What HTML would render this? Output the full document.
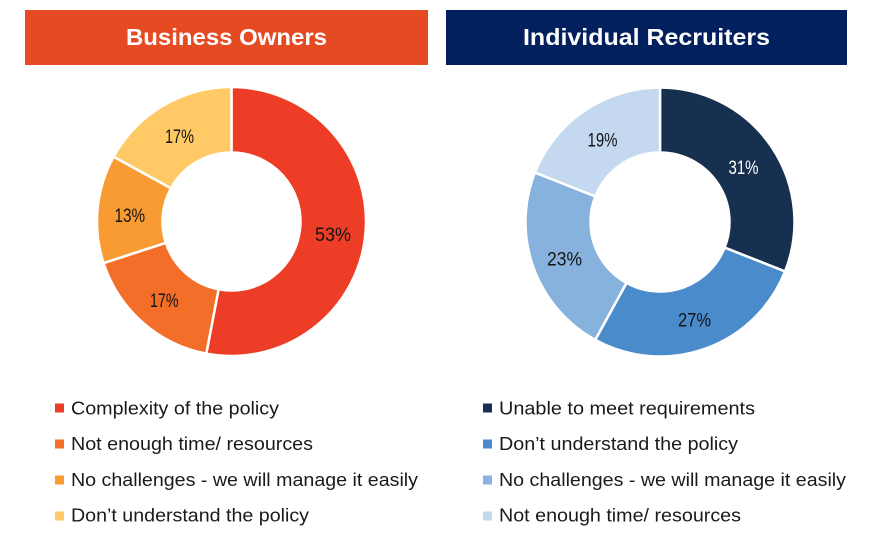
<!DOCTYPE html>
<html>
<head>
<meta charset="utf-8">
<style>
  html,body{margin:0;padding:0;background:#fff;}
  svg{display:block;}
  text{font-family:"Liberation Sans",sans-serif;}
</style>
</head>
<body>
<svg width="880" height="544" viewBox="0 0 880 544" xmlns="http://www.w3.org/2000/svg">
  <rect width="880" height="544" fill="#ffffff"/>

  <!-- Headers -->
  <rect x="25" y="10" width="403" height="55" fill="#E64A23"/>
  <text x="126" y="45" font-size="23" font-weight="bold" fill="#ffffff" textLength="201" lengthAdjust="spacingAndGlyphs">Business Owners</text>

  <rect x="446" y="10" width="401" height="55" fill="#03205E"/>
  <text x="523" y="45" font-size="23" font-weight="bold" fill="#ffffff" textLength="247" lengthAdjust="spacingAndGlyphs">Individual Recruiters</text>

  <!-- Left donut -->
  <g stroke="#ffffff" stroke-width="2.5" stroke-linejoin="miter">
    <path d="M231.5,87 A134.5,134.5 0 1 1 206.30,353.62 L218.57,289.28 A69,69 0 1 0 231.5,152.5 Z" fill="#EE3D26"/>
    <path d="M206.30,353.62 A134.5,134.5 0 0 1 103.58,263.06 L165.88,242.82 A69,69 0 0 0 218.57,289.28 Z" fill="#F26E29"/>
    <path d="M103.58,263.06 A134.5,134.5 0 0 1 113.64,156.70 L171.03,188.26 A69,69 0 0 0 165.88,242.82 Z" fill="#F99B33"/>
    <path d="M113.64,156.70 A134.5,134.5 0 0 1 231.5,87 L231.5,152.5 A69,69 0 0 0 171.03,188.26 Z" fill="#FFC966"/>
  </g>
  <g font-size="19" fill="#141414">
    <text x="315" y="241" textLength="36" lengthAdjust="spacingAndGlyphs">53%</text>
    <text x="165" y="143" textLength="29" lengthAdjust="spacingAndGlyphs">17%</text>
    <text x="114.5" y="222" textLength="30.5" lengthAdjust="spacingAndGlyphs">13%</text>
    <text x="150" y="307" textLength="28.5" lengthAdjust="spacingAndGlyphs">17%</text>
  </g>

  <!-- Right donut -->
  <g stroke="#ffffff" stroke-width="2.5" stroke-linejoin="miter">
    <path d="M660,87.5 A134.5,134.5 0 0 1 785.06,271.51 L724.62,247.58 A69.5,69.5 0 0 0 660,152.5 Z" fill="#17304F"/>
    <path d="M785.06,271.51 A134.5,134.5 0 0 1 595.20,339.86 L626.52,282.90 A69.5,69.5 0 0 0 724.62,247.58 Z" fill="#4A8BCB"/>
    <path d="M595.20,339.86 A134.5,134.5 0 0 1 534.94,172.49 L595.38,196.42 A69.5,69.5 0 0 0 626.52,282.90 Z" fill="#87B2DE"/>
    <path d="M534.94,172.49 A134.5,134.5 0 0 1 660,87.5 L660,152.5 A69.5,69.5 0 0 0 595.38,196.42 Z" fill="#C4D9F0"/>
  </g>
  <g font-size="19" fill="#141414">
    <text x="728.5" y="174" fill="#ffffff" textLength="30" lengthAdjust="spacingAndGlyphs">31%</text>
    <text x="678" y="326.5" textLength="33" lengthAdjust="spacingAndGlyphs">27%</text>
    <text x="547" y="265.5" textLength="35" lengthAdjust="spacingAndGlyphs">23%</text>
    <text x="587.5" y="146.5" textLength="30" lengthAdjust="spacingAndGlyphs">19%</text>
  </g>

  <!-- Left legend -->
  <rect x="55" y="403.5" width="9" height="9" fill="#EE3D26"/>
  <rect x="55" y="439.5" width="9" height="9" fill="#F26E29"/>
  <rect x="55" y="475.5" width="9" height="9" fill="#F99B33"/>
  <rect x="55" y="511.5" width="9" height="9" fill="#FFC966"/>
  <g font-size="18" fill="#1a1a1a">
    <text x="71" y="414.5" textLength="208" lengthAdjust="spacingAndGlyphs">Complexity of the policy</text>
    <text x="71" y="450" textLength="242" lengthAdjust="spacingAndGlyphs">Not enough time/ resources</text>
    <text x="71" y="486" textLength="347" lengthAdjust="spacingAndGlyphs">No challenges - we will manage it easily</text>
    <text x="71" y="521.5" textLength="238" lengthAdjust="spacingAndGlyphs">Don’t understand the policy</text>
  </g>

  <!-- Right legend -->
  <rect x="483" y="403.5" width="9" height="9" fill="#17304F"/>
  <rect x="483" y="439.5" width="9" height="9" fill="#4A8BCB"/>
  <rect x="483" y="475.5" width="9" height="9" fill="#87B2DE"/>
  <rect x="483" y="511.5" width="9" height="9" fill="#C4D9F0"/>
  <g font-size="18" fill="#1a1a1a">
    <text x="499" y="414.5" textLength="256" lengthAdjust="spacingAndGlyphs">Unable to meet requirements</text>
    <text x="499" y="450" textLength="239" lengthAdjust="spacingAndGlyphs">Don’t understand the policy</text>
    <text x="499" y="486" textLength="347" lengthAdjust="spacingAndGlyphs">No challenges - we will manage it easily</text>
    <text x="499" y="521.5" textLength="242" lengthAdjust="spacingAndGlyphs">Not enough time/ resources</text>
  </g>
</svg>
</body>
</html>
